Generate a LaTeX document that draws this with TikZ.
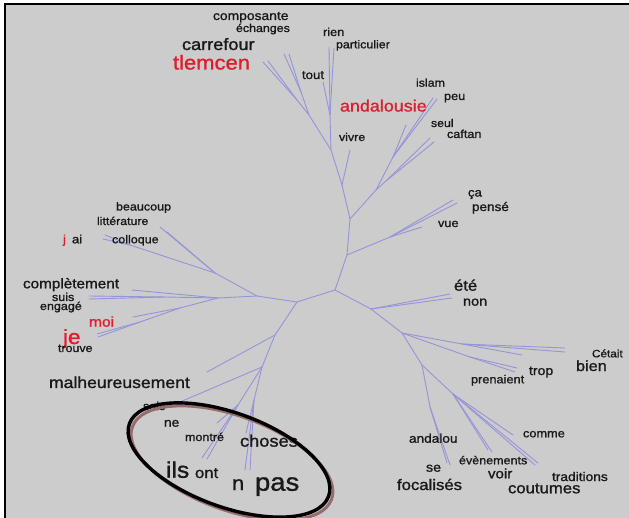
\documentclass[tikz,border=0pt]{standalone}
\usepackage{fontspec}
\setmainfont[FakeStretch=1.1,FakeBold=1.2]{Liberation Sans}
\definecolor{bgc}{RGB}{204,204,204}
\definecolor{brc}{RGB}{148,148,218}
\definecolor{txc}{RGB}{25,25,25}
\definecolor{redc}{RGB}{222,30,45}
\definecolor{shc}{RGB}{150,108,108}
\newcommand\wlab[5]{\node[lbl,text=txc,font=\fontsize{#4}{#4}\selectfont] (#1) at (#2,#3) {#5};}
\newcommand\rlab[5]{\node[lbl,text=redc,font=\fontsize{#4}{#4}\selectfont] (#1) at (#2,#3) {#5};}
\begin{document}
\begin{tikzpicture}[x=1pt,y=-1pt,
  lbl/.style={anchor=base west,inner sep=0pt,outer sep=0pt},
  br/.style={draw=brc,line width=0.9pt,line cap=round,line join=round}]
\useasboundingbox (0,0) rectangle (629,518);
\fill[white] (0,0) rectangle (629,518);
\fill[bgc] (5.5,4.5) rectangle (629,518);
\draw[black,line width=1.6pt] (5,518) -- (5,4) -- (629,4);
% tree points
\coordinate (A) at (335,290);
\coordinate (B) at (347,255);
\coordinate (C) at (350,219);
\coordinate (P) at (342,185);
\coordinate (Q) at (331,150);
\coordinate (R) at (330,115);
\coordinate (rien1) at (329,47);
\coordinate (rien2) at (334,48);
\coordinate (tout1) at (323,82);
\coordinate (S) at (309,115);
\coordinate (S1) at (297,100);
\coordinate (tl1) at (263,62);
\coordinate (tl2) at (268,61);
\coordinate (S2) at (301,92);
\coordinate (co1) at (284,54);
\coordinate (co2) at (289,54);
\coordinate (vi1) at (350,150);
\coordinate (T) at (376,190);
\coordinate (U) at (393,157);
\coordinate (and1) at (406,125);
\coordinate (is1) at (433,98);
\coordinate (is2) at (437,99);
\coordinate (V) at (386,181);
\coordinate (se1) at (430,138);
\coordinate (se2) at (434,142);
\coordinate (W) at (390,237);
\coordinate (ca1) at (453,200);
\coordinate (ca2) at (457,203);
\coordinate (vu1) at (422,227);
\coordinate (D) at (297,302);
\coordinate (X) at (257,296);
\coordinate (Y) at (215,273);
\coordinate (be1) at (160,227);
\coordinate (be2) at (167,232);
\coordinate (Y2) at (130,245);
\coordinate (ja1) at (105,235);
\coordinate (ja2) at (103,239);
\coordinate (K) at (218,298);
\coordinate (cp1) at (132,290);
\coordinate (K2) at (165,297);
\coordinate (su1) at (89,296);
\coordinate (su2) at (89,299);
\coordinate (M) at (180,308);
\coordinate (mo1) at (133,317);
\coordinate (M2) at (140,322);
\coordinate (je1) at (97,334);
\coordinate (je2) at (98,337);
\coordinate (Z) at (275,335);
\coordinate (ma1) at (207,372);
\coordinate (Z2) at (262,367);
\coordinate (sa1) at (180,402);
\coordinate (N1) at (238,405);
\coordinate (il1) at (202,458);
\coordinate (il2) at (207,459);
\coordinate (ne1) at (217,423);
\coordinate (N2) at (254,400);
\coordinate (np1) at (245,470);
\coordinate (np2) at (250,470);
\coordinate (ch1) at (246,433);
\coordinate (E) at (371,309);
\coordinate (et1) at (450,294);
\coordinate (et2) at (452,298);
\coordinate (F) at (402,333);
\coordinate (F1) at (462,344);
\coordinate (ce1) at (565,348);
\coordinate (ce2) at (565,352);
\coordinate (tr1) at (522,355);
\coordinate (F2) at (470,357);
\coordinate (pr1) at (517,368);
\coordinate (pr2) at (515,372);
\coordinate (G) at (422,365);
\coordinate (G1) at (430,407);
\coordinate (an1) at (450,465);
\coordinate (an2) at (447,463);
\coordinate (H) at (453,394);
\coordinate (ev1) at (492,452);
\coordinate (ev2) at (488,450);
\coordinate (cm1) at (513,435);
\coordinate (td1) at (538,463);
\coordinate (td2) at (535,465);
% branches
\draw[br] (A) -- (B) -- (C) -- (P) -- (Q) -- (R) -- (rien1);
\draw[br] (R) -- (rien2);
\draw[br] (R) -- (tout1);
\draw[br] (Q) -- (S) -- (S1) -- (tl1);
\draw[br] (S1) -- (tl2);
\draw[br] (S) -- (S2) -- (co1);
\draw[br] (S2) -- (co2);
\draw[br] (P) -- (vi1);
\draw[br] (C) -- (T) -- (U) -- (and1);
\draw[br] (U) -- (is1);
\draw[br] (U) -- (is2);
\draw[br] (T) -- (V) -- (se1);
\draw[br] (V) -- (se2);
\draw[br] (B) -- (W) -- (ca1);
\draw[br] (W) -- (ca2);
\draw[br] (W) -- (vu1);
\draw[br] (A) -- (D) -- (X) -- (Y) -- (be1);
\draw[br] (Y) -- (be2);
\draw[br] (Y) -- (Y2) -- (ja1);
\draw[br] (Y2) -- (ja2);
\draw[br] (X) -- (K) -- (cp1);
\draw[br] (K) -- (K2) -- (su1);
\draw[br] (K2) -- (su2);
\draw[br] (K) -- (M) -- (mo1);
\draw[br] (M) -- (M2) -- (je1);
\draw[br] (M2) -- (je2);
\draw[br] (D) -- (Z) -- (ma1);
\draw[br] (Z) -- (Z2) -- (sa1);
\draw[br] (Z2) -- (N1) -- (il1);
\draw[br] (N1) -- (il2);
\draw[br] (N1) -- (ne1);
\draw[br] (Z2) -- (N2) -- (np1);
\draw[br] (N2) -- (np2);
\draw[br] (N2) -- (ch1);
\draw[br] (A) -- (E) -- (et1);
\draw[br] (E) -- (et2);
\draw[br] (E) -- (F) -- (F1) -- (ce1);
\draw[br] (F1) -- (ce2);
\draw[br] (F1) -- (tr1);
\draw[br] (F) -- (F2) -- (pr1);
\draw[br] (F2) -- (pr2);
\draw[br] (F) -- (G) -- (G1) -- (an1);
\draw[br] (G1) -- (an2);
\draw[br] (G) -- (H) -- (ev1);
\draw[br] (H) -- (ev2);
\draw[br] (H) -- (cm1);
\draw[br] (H) -- (td1);
\draw[br] (H) -- (td2);
% labels
\wlab{composante}{213}{20}{12.6}{composante}
\wlab{echanges}{236}{32}{11.3}{échanges}
\wlab{carrefour}{182}{50}{16.5}{carrefour}
\rlab{tlemcen}{173}{69.5}{20}{tlemcen}
\wlab{rien}{323}{36}{11.6}{rien}
\wlab{particulier}{336}{48.3}{11.3}{particulier}
\wlab{tout}{302}{79}{12}{tout}
\rlab{andalousie}{340}{111.5}{16.3}{andalousie}
\wlab{islam}{416}{86.7}{11.3}{islam}
\wlab{peu}{444}{100}{11.6}{peu}
\wlab{seul}{431}{127}{11.2}{seul}
\wlab{caftan}{447}{138}{11.5}{caftan}
\wlab{vivre}{339}{141}{11.3}{vivre}
\wlab{ca}{468}{196.5}{12}{ça}
\wlab{pense}{472}{211}{12.3}{pensé}
\wlab{vue}{438}{227}{11.6}{vue}
\wlab{beaucoup}{116}{210.5}{11.4}{beaucoup}
\wlab{litterature}{97}{225}{11.2}{littérature}
\rlab{j}{63}{243.3}{12}{j}
\wlab{ai}{72}{243.3}{12}{ai}
\wlab{colloque}{112}{243.3}{11.4}{colloque}
\wlab{completement}{23}{288.3}{13.9}{complètement}
\wlab{suis}{52}{301}{11.4}{suis}
\wlab{engage}{40}{310}{11.4}{engagé}
\rlab{moi}{89}{326.7}{14.2}{moi}
\rlab{je}{63}{344}{20.5}{je}
\wlab{trouve}{58}{352}{11.3}{trouve}
\wlab{malheureusement}{49}{388}{16}{malheureusement}
\wlab{sais}{143}{410}{11.4}{sais}
\wlab{ne}{164}{426.7}{12.5}{ne}
\wlab{montre}{185}{441}{11.4}{montré}
\wlab{choses}{240}{446.7}{16.6}{choses}
\wlab{ils}{166}{477.7}{22.4}{ils}
\wlab{ont}{195}{478}{15.2}{ont}
\wlab{n}{232}{490}{20}{n}
\wlab{pas}{255}{490.7}{25}{pas}
\wlab{ete}{454}{290.7}{15.2}{été}
\wlab{non}{463}{305.7}{13.2}{non}
\wlab{cetait}{592}{357.3}{10.7}{Cétait}
\wlab{bien}{576}{371}{14.8}{bien}
\wlab{trop}{529}{375}{12.8}{trop}
\wlab{prenaient}{471}{383.3}{11.6}{prenaient}
\wlab{comme}{523}{437.3}{11.6}{comme}
\wlab{andalou}{409}{442.7}{12.4}{andalou}
\wlab{evenements}{459}{464.3}{11.4}{évènements}
\wlab{se}{426}{471.7}{13}{se}
\wlab{voir}{488}{478.3}{13.7}{voir}
\wlab{traditions}{552}{481}{12.5}{traditions}
\wlab{focalises}{397}{490}{15.2}{focalisés}
\wlab{coutumes}{508}{493.3}{15.2}{coutumes}
% ellipse highlight
\coordinate (ec) at (229,460);
\coordinate (ec2) at (232,463);
\draw[shc,line width=3pt,rotate around={-20:(ec2)}] (ec2) ellipse [x radius=106pt,y radius=47pt];
\draw[black,line width=3.4pt,rotate around={-20:(ec)}] (ec) ellipse [x radius=106pt,y radius=47pt];
\end{tikzpicture}
\end{document}
